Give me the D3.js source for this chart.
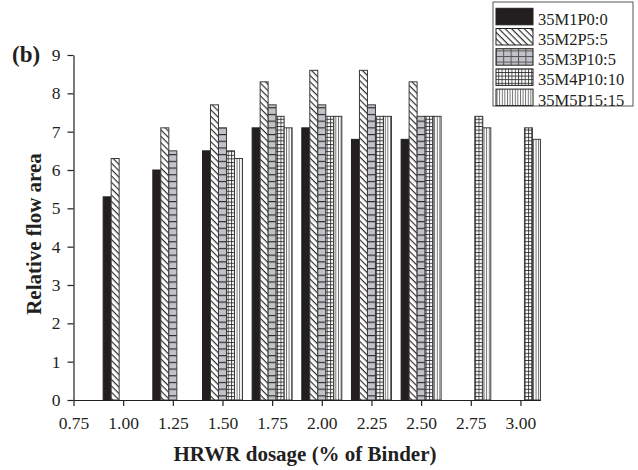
<!DOCTYPE html>
<html><head><meta charset="utf-8">
<script src="https://cdn.jsdelivr.net/npm/d3@7"></script>
<style>
html,body{margin:0;padding:0;background:#fff;}
svg{display:block;font-family:"Liberation Serif","Times New Roman",serif;}
</style></head>
<body><div id="chart"></div>
<script>
const doses = [1.00, 1.25, 1.50, 1.75, 2.00, 2.25, 2.50, 2.75, 3.00];
const series = ["35M1P0:0", "35M2P5:5", "35M3P10:5", "35M4P10:10", "35M5P15:15"];
const m1 = [5.3, 6.0, 6.5, 7.1, 7.1, 6.8, 6.8, null, null];
const m2 = [6.3, 7.1, 7.7, 8.3, 8.6, 8.6, 8.3, null, null];
const m3 = [null, 6.5, 7.1, 7.7, 7.7, 7.7, 7.4, null, null];
const m4 = [null, null, 6.5, 7.4, 7.4, 7.4, 7.4, 7.4, 7.1];
const m5 = [null, null, 6.3, 7.1, 7.4, 7.4, 7.4, 7.1, 6.8];
const xTicks = [0.75, 1.00, 1.25, 1.50, 1.75, 2.00, 2.25, 2.50, 2.75, 3.00];
const yTicks = [0, 1, 2, 3, 4, 5, 6, 7, 8, 9];
const values = [m1, m2, m3, m4, m5];

const W = 638, H = 470;
const ink = "#231f20";
const svg = d3.select("#chart").append("svg").attr("width", W).attr("height", H);
const defs = svg.append("defs");

// patterns
const fills = ["solid", "diag", "gray", "grid", "vert"];
function mkPattern(id, w, h, draw, rot) {
  const p = defs.append("pattern").attr("id", id).attr("patternUnits", "userSpaceOnUse")
    .attr("width", w).attr("height", h);
  if (rot) p.attr("patternTransform", rot);
  draw(p);
}
mkPattern("diag", 10, 4.5, p => {
  p.append("rect").attr("width", 10).attr("height", 4.5).attr("fill", "#fff");
  p.append("line").attr("x1", 0).attr("x2", 10).attr("y1", 0.6).attr("y2", 0.6).attr("stroke", ink).attr("stroke-width", 1.1);
}, "rotate(45)");
mkPattern("gray", 8, 6.7, p => {
  p.append("rect").attr("width", 8).attr("height", 6.7).attr("fill", "#c2c3c8");
  p.append("line").attr("x1", 0).attr("x2", 8).attr("y1", 0.6).attr("y2", 0.6).attr("stroke", ink).attr("stroke-width", 1.1);
});
mkPattern("grayL", 7.4, 5.6, p => {
  p.append("rect").attr("width", 7.4).attr("height", 5.6).attr("fill", "#c2c3c8");
  p.append("line").attr("x1", 0).attr("x2", 7.4).attr("y1", 0.5).attr("y2", 0.5).attr("stroke", "#555").attr("stroke-width", 1);
  p.append("line").attr("x1", 0.5).attr("x2", 0.5).attr("y1", 0).attr("y2", 5.6).attr("stroke", "#555").attr("stroke-width", 1);
});
mkPattern("grid", 3.3, 3.6, p => {
  p.append("rect").attr("width", 3.3).attr("height", 3.6).attr("fill", "#fff");
  p.append("line").attr("x1", 0).attr("x2", 3.3).attr("y1", 0.5).attr("y2", 0.5).attr("stroke", ink).attr("stroke-width", 0.8);
  p.append("line").attr("x1", 0.5).attr("x2", 0.5).attr("y1", 0).attr("y2", 3.6).attr("stroke", ink).attr("stroke-width", 0.8);
});
mkPattern("vert", 2.6, 10, p => {
  p.append("rect").attr("width", 2.6).attr("height", 10).attr("fill", "#fff");
  p.append("line").attr("x1", 0.5).attr("x2", 0.5).attr("y1", 0).attr("y2", 10).attr("stroke", "#444").attr("stroke-width", 0.8);
});
const fillFor = (k, legend) => k === 0 ? ink : k === 2 ? (legend ? "url(#grayL)" : "url(#gray)") : `url(#${fills[k]})`;

const x = d3.scaleLinear().domain([0.75, 3.1]).range([73.5, 540.3]);
const y = d3.scaleLinear().domain([0, 9]).range([400, 55]);
const inner = d3.scaleBand().domain(series).range([-20, 20]);

// bars
const barData = [];
series.forEach((s, k) => doses.forEach((d, j) => {
  if (values[k][j] != null) barData.push({s, k, d, v: values[k][j]});
}));
svg.append("g").selectAll("rect").data(barData).join("rect")
  .attr("x", d => x(d.d) + inner(d.s))
  .attr("width", inner.bandwidth())
  .attr("y", d => y(d.v))
  .attr("height", d => y(0) - y(d.v))
  .attr("fill", d => fillFor(d.k, false))
  .attr("stroke", d => d.k === 0 ? ink : "#3a3a3a")
  .attr("stroke-width", 1);

// axes
const gy = svg.append("g").attr("transform", `translate(${x(0.75)},0)`);
gy.call(d3.axisLeft(y).tickValues(d3.range(0.5, 9, 1)).tickSize(3.5).tickSizeOuter(0).tickFormat(""));
gy.call(d3.axisLeft(y).tickValues(yTicks).tickSize(6).tickSizeOuter(0).tickPadding(7).tickFormat(d3.format("d")));
gy.selectAll("text").attr("font-size", 17.5).attr("fill", ink).attr("font-family", "Liberation Serif");
gy.selectAll("line,path").attr("stroke", ink).attr("stroke-width", 1.2);

const gx = svg.append("g").attr("transform", `translate(0,${y(0)})`);
gx.call(d3.axisBottom(x).tickValues(xTicks).tickSize(6).tickSizeOuter(0).tickPadding(11).tickFormat(d3.format(".2f")));
gx.selectAll("text").attr("font-size", 17.5).attr("fill", ink).attr("font-family", "Liberation Serif");
gx.selectAll("line,path").attr("stroke", ink).attr("stroke-width", 1.2);

// titles
svg.append("text").attr("x", 305).attr("y", 461).attr("text-anchor", "middle")
  .attr("font-size", 21).attr("font-weight", "bold").attr("fill", ink)
  .text("HRWR dosage (% of Binder)");
svg.append("text").attr("transform", "translate(41,234) rotate(-90)").attr("text-anchor", "middle")
  .attr("font-size", 21).attr("font-weight", "bold").attr("fill", ink)
  .text("Relative flow area");
svg.append("text").attr("x", 12).attr("y", 62).attr("font-size", 23).attr("font-weight", "bold").attr("fill", ink)
  .text("(b)");

// legend
const lg = svg.append("g");
lg.append("rect").attr("x", 493).attr("y", 2).attr("width", 140).attr("height", 104)
  .attr("fill", "#fff").attr("stroke", "#555").attr("stroke-width", 1);
series.forEach((s, k) => {
  const yy = 8.3 + k * 20.2;
  lg.append("rect").attr("x", 496).attr("y", yy).attr("width", 37).attr("height", 16.5)
    .attr("fill", fillFor(k, true)).attr("stroke", ink).attr("stroke-width", 1);
  lg.append("text").attr("x", 538).attr("y", yy + 16.5).attr("font-size", 16.5).attr("fill", ink).text(s);
});
</script></body></html>
